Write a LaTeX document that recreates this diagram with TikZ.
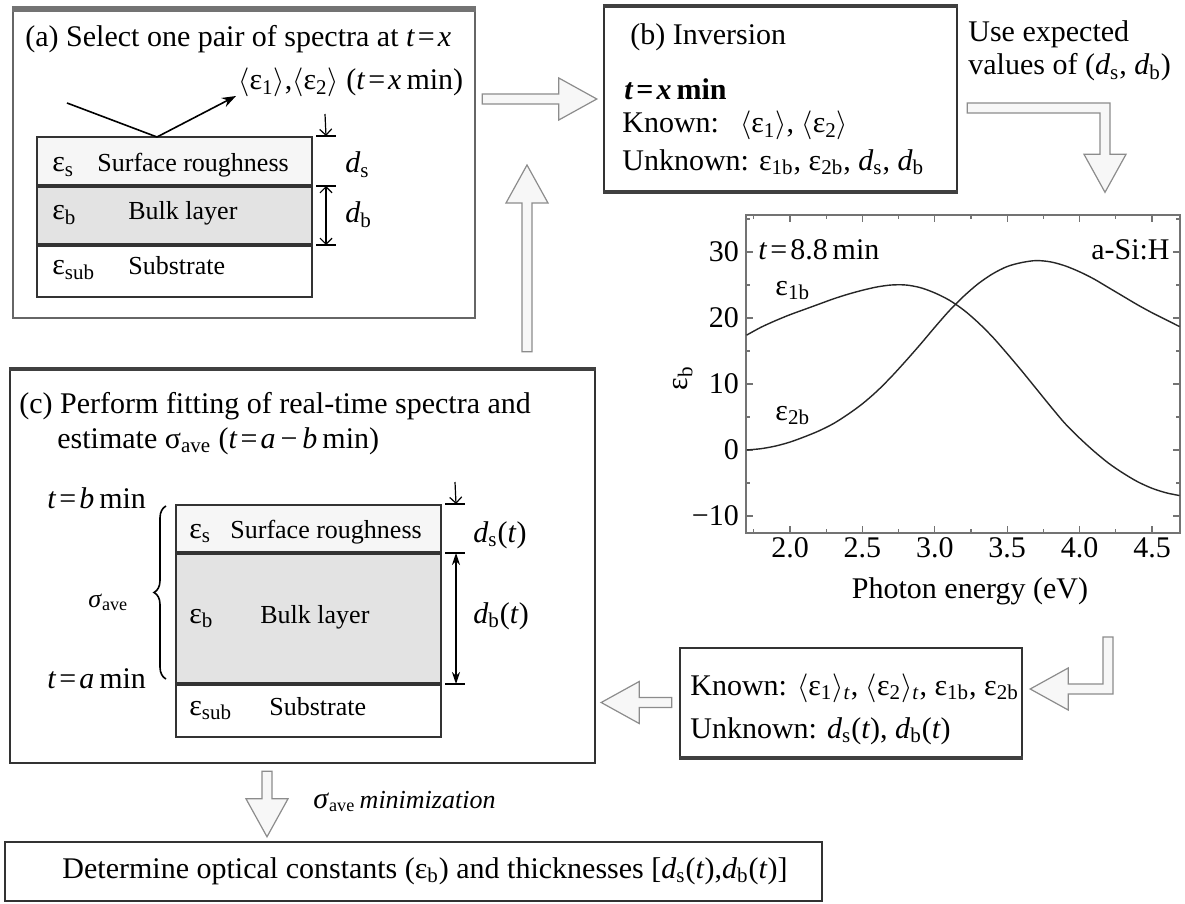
\documentclass[tikz,border=0pt]{standalone}
\usepackage{fontspec}
\setmainfont{Liberation Serif}
\usepackage{tikz}
\usetikzlibrary{positioning, arrows.meta, calc, decorations.pathreplacing}

\newcommand{\eps}[1]{ε\textsubscript{#1}}
\newcommand{\dth}[1]{\textit{d}\textsubscript{#1}}
\newcommand{\avg}[1]{$\langle$ε\textsubscript{#1}$\rangle$}
\newcommand{\tis}[1]{\textit{t}\kern1.5pt=\kern1.5pt#1}
\newcommand{\ashaft}{2.5pt}
\newcommand{\ahead}{10.5pt}
\newcommand{\alen}{19pt}
% hollow block arrows: tail, tip
\newcommand{\blockright}[2]{\draw[hollow] let \p1=(#1), \p2=(#2) in (\x1,\y2+\ashaft) -- (\x2-\alen,\y2+\ashaft) -- (\x2-\alen,\y2+\ahead) -- (\p2) -- (\x2-\alen,\y2-\ahead) -- (\x2-\alen,\y2-\ashaft) -- (\x1,\y2-\ashaft) -- cycle;}
\newcommand{\blockleft}[2]{\draw[hollow] let \p1=(#1), \p2=(#2) in (\x1,\y2+\ashaft) -- (\x2+\alen,\y2+\ashaft) -- (\x2+\alen,\y2+\ahead) -- (\p2) -- (\x2+\alen,\y2-\ahead) -- (\x2+\alen,\y2-\ashaft) -- (\x1,\y2-\ashaft) -- cycle;}
\newcommand{\blockdown}[2]{\draw[hollow] let \p1=(#1), \p2=(#2) in (\x2-\ashaft,\y1) -- (\x2-\ashaft,\y2+\alen) -- (\x2-\ahead,\y2+\alen) -- (\p2) -- (\x2+\ahead,\y2+\alen) -- (\x2+\ashaft,\y2+\alen) -- (\x2+\ashaft,\y1) -- cycle;}
\newcommand{\blockup}[2]{\draw[hollow] let \p1=(#1), \p2=(#2) in (\x2-\ashaft,\y1) -- (\x2-\ashaft,\y2-\alen) -- (\x2-\ahead,\y2-\alen) -- (\p2) -- (\x2+\ahead,\y2-\alen) -- (\x2+\ashaft,\y2-\alen) -- (\x2+\ashaft,\y1) -- cycle;}

\begin{document}
\begin{tikzpicture}[x=0.5pt, y=-0.5pt,
        every node/.style={font=\fontsize{15}{18}\selectfont, inner sep=0pt},
        small/.style={font=\fontsize{13}{15}\selectfont},
        panel/.style={draw=black!80, line width=1.2pt, fill=white, inner sep=0pt},
        heavy/.style={line width=2.2pt, draw=#1},
        layer/.style={draw=black!80, line width=1pt, fill=#1, inner sep=0pt},
        hollow/.style={draw=black!45, fill=gray!6, line width=0.6pt},
        tick/.style={draw=black!55, line width=0.6pt},
        dimline/.style={line width=0.6pt},
        curve/.style={black!85, line width=0.7pt},
        arrow/.style={-{Stealth[length=7pt, width=5pt]}, line width=0.8pt}
    ]
    \fill[white] (0,0) rectangle (1185,904);
    \useasboundingbox (0,0) rectangle (1185,904);
%
    % (a) one pair of spectra
    \node[panel, draw=black!60, minimum width=231pt, minimum height=154pt] (boxa) at (244,164) {};
    \draw[heavy=black!55, line width=2.8pt] (boxa.north west) -- (boxa.north east);
    \node[anchor=base west] (atitle) at (25,47) {(a) Select one pair of spectra at \tis{\textit{x}}};
    \node[anchor=base west] (ameas) at (238,90) {\avg{1},\avg{2} (\tis{\textit{x}}\,min)};
    \node[layer=gray!7, minimum width=137.5pt, minimum height=24pt] (sura) at (174.5,161) {};
    \node[layer=gray!22, minimum width=137.5pt, minimum height=28.5pt, below=0pt of sura] (bulka) {};
    \node[layer=white, minimum width=137.5pt, minimum height=25.5pt, below=0pt of bulka] (suba) {};
    \node[anchor=base west] (esa) at (52,172) {\eps{s}};
    \node[small, anchor=base west] (lsa) at (97,172) {Surface roughness};
    \node[anchor=base west] (eba) at (52,220) {\eps{b}};
    \node[small, anchor=base west] (lba) at (128,220) {Bulk layer};
    \node[anchor=base west] (esuba) at (52,275) {\eps{sub}};
    \node[small, anchor=base west] (lsuba) at (128,275) {Substrate};
    \draw[dimline] ([xshift=1.5pt]sura.north east) -- ++(10pt,0);
    \draw[dimline] ([xshift=1.5pt]bulka.north east) -- ++(10pt,0);
    \draw[dimline] ([xshift=1.5pt]suba.north east) -- ++(10pt,0);
    \coordinate (dsa) at (325,114);
    \draw[dimline, -{Straight Barb[length=3pt]}] (dsa) -- ([xshift=6.5pt]sura.north east);
    \draw[dimline, {Straight Barb[length=3pt]}-{Straight Barb[length=3pt]}] ([xshift=6.5pt]bulka.north east) -- ([xshift=6.5pt]bulka.south east);
    \node[anchor=base west] (dsalab) at (345,173) {\dth{s}};
    \node[anchor=base west] (dbalab) at (345,223) {\dth{b}};
    % light in and out
    \coordinate (rin) at (67,103);
    \coordinate (rhit) at (157,137);
    \coordinate (rout) at (236,96);
    \draw[line width=0.8pt] (rin) -- (rhit);
    \draw[arrow] (rhit) -- (rout);
%
    % (b) inversion
    \node[panel, minimum width=176.5pt, minimum height=92pt] (boxb) at (780.5,99) {};
    \draw[heavy=black!75] (boxb.north west) -- (boxb.north east);
    \draw[heavy=black!75] (boxb.south west) -- (boxb.south east);
    \node[anchor=base west] (btitle) at (630,45) {(b) Inversion};
    \node[anchor=base west] (bsel) at (624,100) {\textbf{\tis{\textit{x}}\,min}};
    \node[anchor=base west] (bknown) at (622,133) {Known:\hspace{0.7em}\avg{1}, \avg{2}};
    \node[anchor=base west] (bunknown) at (622,170) {Unknown: \eps{1b}, \eps{2b}, \dth{s}, \dth{b}};
    \node[anchor=base west] (use1) at (968,42) {Use expected};
    \node[anchor=base west] (use2) at (968,75) {values of (\dth{s}, \dth{b})};
%
    % spectra of the bulk layer
    \node[draw=black!55, line width=0.7pt, minimum width=217pt, minimum height=159pt] (frame) at (963,374) {};
    \begin{scope}[shift={(500.4,450)}, x=72.4pt, y=3.3pt]
        \foreach \e [count=\k] in {2.0,2.5,3.0,3.5,4.0,4.5} {
            \draw[tick] (\e,0 |- frame.south) -- ++(0,4pt);
            \draw[tick] (\e,0 |- frame.north) -- ++(0,-4pt);
            \node[anchor=base] (xl\k) at ($(\e,0 |- frame.south)+(0,-12pt)$) {\e};
        }
        \foreach \e in {1.75,2.25,2.75,3.25,3.75,4.25} {
            \draw[tick] (\e,0 |- frame.south) -- ++(0,2.5pt);
            \draw[tick] (\e,0 |- frame.north) -- ++(0,-2.5pt);
        }
        \foreach \v/\t [count=\k] in {-10/−10,0/0,10/10,20/20,30/30} {
            \draw[tick] (frame.west |- 0,\v) -- ++(4pt,0);
            \draw[tick] (frame.east |- 0,\v) -- ++(-4pt,0);
            \node[anchor=east] (yl\k) at ($(frame.west |- 0,\v)+(-3pt,0)$) {\t};
        }
        \foreach \v in {-5,5,15,25,35} {
            \draw[tick] (frame.west |- 0,\v) -- ++(2.5pt,0);
            \draw[tick] (frame.east |- 0,\v) -- ++(-2.5pt,0);
        }
        \draw[curve] plot[smooth] coordinates {(1.7,17.4) (1.8,18.6) (1.9,19.6) (2.0,20.5) (2.1,21.3) (2.2,22.1) (2.3,22.9) (2.4,23.6) (2.5,24.2) (2.6,24.7) (2.7,25.0) (2.8,25.0) (2.9,24.6) (3.0,23.8) (3.1,22.7) (3.2,21.2) (3.3,19.3) (3.4,17.1) (3.5,14.6) (3.6,12.0) (3.7,9.3) (3.8,6.6) (3.9,4.0) (4.0,1.8) (4.1,-0.2) (4.2,-2.0) (4.3,-3.5) (4.4,-4.8) (4.5,-5.8) (4.6,-6.5) (4.69,-6.9)};
        \draw[curve] plot[smooth] coordinates {(1.7,0.0) (1.8,0.2) (1.9,0.6) (2.0,1.2) (2.1,2.0) (2.2,2.9) (2.3,4.0) (2.4,5.4) (2.5,7.0) (2.6,8.9) (2.7,11.1) (2.8,13.5) (2.9,16.0) (3.0,18.6) (3.1,21.1) (3.2,23.3) (3.3,25.2) (3.4,26.7) (3.5,27.8) (3.6,28.4) (3.7,28.7) (3.8,28.5) (3.9,27.9) (4.0,27.0) (4.1,25.9) (4.2,24.6) (4.3,23.3) (4.4,22.0) (4.5,20.8) (4.6,19.7) (4.69,18.7)};
    \end{scope}
    \node[anchor=base west] (ptime) at (758,260) {\tis{8.8}\,min};
    \node[anchor=base east] (pmat) at (1170,260) {a-Si:H};
    \node[anchor=base west] (pe1) at (775,295) {\eps{1b}};
    \node[anchor=base west] (pe2) at (775,420) {\eps{2b}};
    \node[anchor=base] (pxlab) at (970,598) {Photon energy (eV)};
    \node[rotate=90] (pylab) at (683,378) {\eps{b}};
%
    % (c) fitting of real-time spectra
    \node[panel, minimum width=292.5pt, minimum height=196.5pt] (boxc) at (302.5,566.5) {};
    \draw[heavy=black!75, line width=1.8pt] (boxc.north west) -- (boxc.north east);
    \node[anchor=base west] (ctitle) at (19,413) {(c) Perform fitting of real-time spectra and};
    \node[anchor=base west] (ctitle2) at (57,448) {estimate σ\textsubscript{ave} (\tis{\textit{a}}\,−\,\textit{b}\,min)};
    \node[layer=gray!7, minimum width=132.5pt, minimum height=23.5pt] (surc) at (308.5,528.5) {};
    \node[layer=gray!22, minimum width=132.5pt, minimum height=64.5pt, below=0pt of surc] (bulkc) {};
    \node[layer=white, minimum width=132.5pt, minimum height=26pt, below=0pt of bulkc] (subc) {};
    \node[anchor=base west] (esc) at (189,538) {\eps{s}};
    \node[small, anchor=base west] (lsc) at (230,538) {Surface roughness};
    \node[anchor=base west] (ebc) at (189,623) {\eps{b}};
    \node[small, anchor=base west] (lbc) at (260,623) {Bulk layer};
    \node[anchor=base west] (esubc) at (189,715) {\eps{sub}};
    \node[small, anchor=base west] (lsubc) at (269,715) {Substrate};
    \draw[dimline] ([xshift=1.5pt]surc.north east) -- ++(10pt,0);
    \draw[dimline] ([xshift=1.5pt]bulkc.north east) -- ++(10pt,0);
    \draw[dimline] ([xshift=1.5pt]subc.north east) -- ++(10pt,0);
    \coordinate (dsc) at (455,482);
    \draw[dimline, -{Straight Barb[length=3pt]}] (dsc) -- ([xshift=7pt]surc.north east);
    \draw[dimline, {Stealth[length=6pt, width=4pt]}-{Stealth[length=6pt, width=4pt]}] ([xshift=7pt]bulkc.north east) -- ([xshift=7pt]bulkc.south east);
    \node[anchor=base west] (dsclab) at (473,542) {\dth{s}(\textit{t})};
    \node[anchor=base west] (dbclab) at (473,623) {\dth{b}(\textit{t})};
    \node[anchor=base west] (tb) at (47,508) {\tis{\textit{b}}\,min};
    \node[anchor=base west] (ta) at (47,688) {\tis{\textit{a}}\,min};
    \node[small, anchor=base west] (sig) at (88,607) {\textit{σ}\textsubscript{ave}};
    \draw[decorate, decoration={brace, amplitude=6pt}, line width=0.8pt] (166,679) -- (166,506);
%
    % known / unknown for the fit
    \node[panel, minimum width=171pt, minimum height=54.5pt] (boxk) at (851,702.5) {};
    \draw[heavy=black!75] (boxk.south west) -- (boxk.south east);
    \node[anchor=base west] (kknown) at (690,695) {Known: \avg{1}\textsubscript{\textit{t}}, \avg{2}\textsubscript{\textit{t}}, \eps{1b}, \eps{2b}};
    \node[anchor=base west] (kunknown) at (690,738) {Unknown: \dth{s}(\textit{t}), \dth{b}(\textit{t})};
%
    % result
    \node[panel, minimum width=408.5pt, minimum height=29.5pt] (boxd) at (413.5,871.5) {};
    \node[anchor=base] (dtext) at (425,878) {Determine optical constants (\eps{b}) and thicknesses [\dth{s}(\textit{t}),\dth{b}(\textit{t})]};
    \node[small, anchor=base west] (minlab) at (313,808) {{\fontsize{15}{18}\selectfont\textit{σ}}\textsubscript{ave}\,\textit{minimization}};
%
    % block arrows
    \coordinate (ab0) at ($(boxa.east |- boxb.west)+(3pt,0)$);
    \coordinate (ab1) at ($(boxb.west)+(-3pt,0)$);
    \blockright{ab0}{ab1}
    \coordinate (cb0) at ($(527,0 |- boxc.north)+(0,8.5pt)$);
    \coordinate (cb1) at (527,165);
    \blockup{cb0}{cb1}
    \coordinate (kc0) at ($(boxk.west)+(-3.5pt,0)$);
    \coordinate (kc1) at ($(boxk.west -| boxc.east)+(2.5pt,0)$);
    \blockleft{kc0}{kc1}
    \coordinate (cd0) at ($(267,0 |- boxc.south)+(0,-3.5pt)$);
    \coordinate (cd1) at ($(267,0 |- boxd.north)+(0,2pt)$);
    \blockdown{cd0}{cd1}
    % bent arrow from (b) down to the plot
    \coordinate (bp0) at ($(boxb.east |- 0,108)+(4.5pt,0)$);
    \coordinate (bp1) at (1105,108);
    \coordinate (bp2) at ($(1105,0 |- frame.north)+(0,11pt)$);
    \draw[hollow] let \p0=(bp0), \p1=(bp1), \p2=(bp2) in
        (\x0,\y0+\ashaft) -- (\x1+\ashaft,\y0+\ashaft) -- (\x1+\ashaft,\y2+\alen) -- (\x1+\ahead,\y2+\alen) -- (\p2)
        -- (\x1-\ahead,\y2+\alen) -- (\x1-\ashaft,\y2+\alen) -- (\x1-\ashaft,\y0-\ashaft) -- (\x0,\y0-\ashaft) -- cycle;
    % bent arrow from the plot to the known box
    \coordinate (pk0) at (1108,637);
    \coordinate (pk1) at (1108,689);
    \coordinate (pk2) at ($(boxk.east |- pk1)+(3.5pt,0)$);
    \draw[hollow] let \p0=(pk0), \p1=(pk1), \p2=(pk2) in
        (\x0-\ashaft,\y0) -- (\x0-\ashaft,\y1+\ashaft) -- (\x2+\alen,\y1+\ashaft) -- (\x2+\alen,\y1+\ahead) -- (\p2)
        -- (\x2+\alen,\y1-\ahead) -- (\x2+\alen,\y1-\ashaft) -- (\x0+\ashaft,\y1-\ashaft) -- (\x0+\ashaft,\y0) -- cycle;
%
\end{tikzpicture}
\end{document}
